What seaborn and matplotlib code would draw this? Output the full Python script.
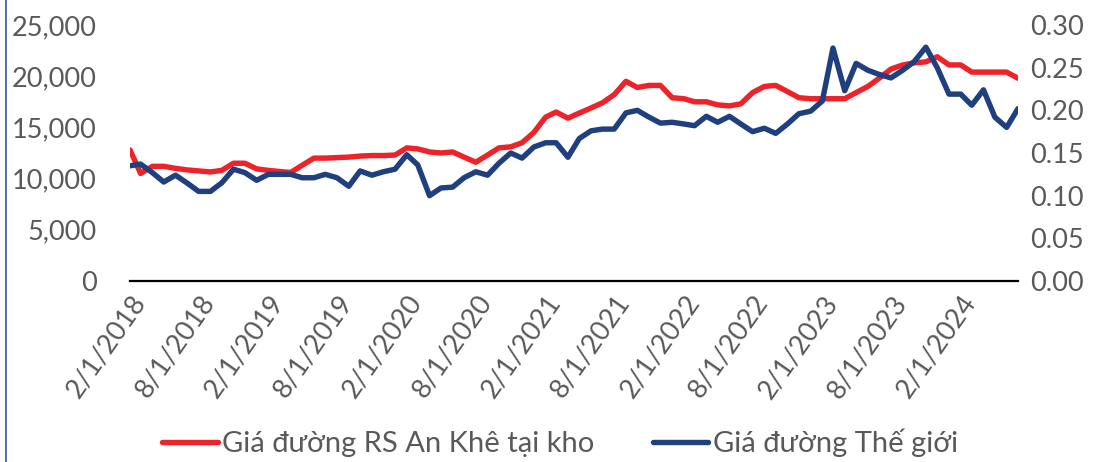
import matplotlib
matplotlib.use("Agg")
import matplotlib.pyplot as plt
import matplotlib.ticker as mticker
from matplotlib.lines import Line2D
import pandas as pd
import seaborn as sns

# monthly data, Feb 2018 .. Jul 2024
months = pd.date_range("2018-02-01", periods=78, freq="MS")

gia_an_khe = [
    12800, 10500, 11200, 11200, 11000, 10850, 10750, 10650, 10800, 11500,
    11500, 10950, 10800, 10700, 10600, 11300, 12000, 12000, 12050, 12100,
    12200, 12250, 12250, 12300, 13000, 12900, 12600, 12500, 12600, 12100,
    11600, 12300, 13000, 13100, 13500, 14500, 16000, 16500, 15900, 16400,
    16900, 17400, 18200, 19500, 18900, 19100, 19100, 17900, 17800, 17500,
    17500, 17200, 17100, 17300, 18400, 19000, 19100, 18500, 17900, 17800,
    17800, 17800, 17800, 18400, 19000, 19800, 20700, 21100, 21300, 21400,
    21900, 21100, 21100, 20400, 20400, 20400, 20400, 19800,
]

gia_the_gioi = [
    0.135, 0.137, 0.127, 0.116, 0.124, 0.115, 0.105, 0.105, 0.115, 0.131,
    0.127, 0.118, 0.125, 0.125, 0.125, 0.121, 0.121, 0.125, 0.121, 0.111,
    0.129, 0.124, 0.128, 0.131, 0.148, 0.136, 0.100, 0.109, 0.110, 0.121,
    0.128, 0.124, 0.138, 0.150, 0.144, 0.157, 0.162, 0.162, 0.145, 0.167,
    0.176, 0.178, 0.178, 0.197, 0.200, 0.192, 0.185, 0.186, 0.184, 0.182,
    0.193, 0.186, 0.193, 0.184, 0.175, 0.179, 0.173, 0.184, 0.196, 0.199,
    0.211, 0.273, 0.223, 0.255, 0.247, 0.242, 0.238, 0.247, 0.257, 0.274,
    0.250, 0.219, 0.219, 0.206, 0.224, 0.192, 0.180, 0.202,
]

series_names = ["Giá đường RS An Khê tại kho", "Giá đường Thế giới"]
tick_dates = pd.date_range("2018-02-01", "2024-02-01", freq="6MS")
tick_labels = [f"{d.month}/{d.day}/{d.year}" for d in tick_dates]

df = pd.DataFrame({"date": months, "an_khe": gia_an_khe, "the_gioi": gia_the_gioi})

sns.set_style("white")
plt.rcParams["font.family"] = ["Lato", "DejaVu Sans"]

red = "#EE2229"
blue = "#1F3F7E"
grey = "#595959"

fig = plt.figure(figsize=(11.09, 4.62), dpi=100)
ax = fig.add_axes([130 / 1109, 1 - 281 / 462, (1018 - 130) / 1109, 256 / 462])
ax2 = ax.twinx()

sns.lineplot(data=df, x="date", y="an_khe", ax=ax, color=red, linewidth=3.9)
sns.lineplot(data=df, x="date", y="the_gioi", ax=ax2, color=blue, linewidth=3.9)

ax.set_xlim(months[0], months[-1])
ax.set_ylim(0, 25000)
ax2.set_ylim(0, 0.30)
ax.set_yticks(range(0, 25001, 5000))
ax2.set_yticks([0, 0.05, 0.10, 0.15, 0.20, 0.25, 0.30])
ax.yaxis.set_major_formatter(mticker.FuncFormatter(lambda v, p: f"{v:,.0f}"))
ax2.yaxis.set_major_formatter(mticker.FuncFormatter(lambda v, p: f"{v:.2f}"))

ax.set_xticks(tick_dates)
ax.set_xticklabels(tick_labels, rotation=55, ha="right", rotation_mode="anchor")

for a in (ax, ax2):
    a.set_xlabel("")
    a.set_ylabel("")
    for s in a.spines.values():
        s.set_visible(False)
    a.tick_params(length=0, labelsize=19.5, labelcolor=grey)
    a.grid(False)
ax.tick_params(axis="y", pad=24)
ax2.tick_params(axis="y", pad=9)
ax.tick_params(axis="x", pad=7)

ax.spines["bottom"].set_visible(True)
ax.spines["bottom"].set_color("black")
ax.spines["bottom"].set_linewidth(1.6)

handles = [Line2D([], [], color=red, linewidth=3.9), Line2D([], [], color=blue, linewidth=3.9)]
fig.legend(handles, series_names, loc="center", bbox_to_anchor=(0.505, 0.042), ncol=2,
           frameon=False, fontsize=21, handlelength=1.9, handletextpad=0.15,
           columnspacing=2.0, labelcolor=grey, borderpad=0.1)

# chart frame edge on the left
fig.add_artist(Line2D([6 / 1109, 6 / 1109], [0, 1], transform=fig.transFigure, color="#2F5597", linewidth=1.2))

fig.savefig("out.png", dpi=100)
